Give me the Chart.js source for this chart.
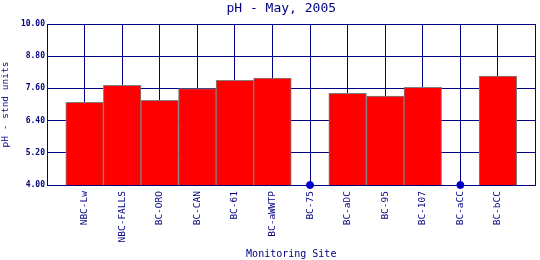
<!DOCTYPE html>
<html>
<head>
<meta charset="utf-8">
<script src="https://cdn.jsdelivr.net/npm/chart.js@4/dist/chart.umd.min.js"></script>
<style>
html,body{margin:0;padding:0;background:#fff;}
#wrap{width:540px;height:260px;position:relative;}
</style>
</head>
<body>
<div id="wrap"><canvas id="c" width="540" height="260"></canvas></div>
<script>
const chartTitle = 'pH - May, 2005';
const xAxisTitle = 'Monitoring Site';
const yAxisTitle = 'pH - stnd units';
const categories = ['NBC-Lw','NBC-FALLS','BC-ORO','BC-CAN','BC-61','BC-aWWTP','BC-75','BC-aDC','BC-95','BC-107','BC-aCC','BC-bCC'];
const phValues = [7.08, 7.71, 7.16, 7.59, 7.90, 7.98, null, 7.42, 7.31, 7.64, null, 8.06];
const yTicks = [4.00, 5.20, 6.40, 7.60, 8.80, 10.00];

const NAVY = '#000080';
const yMin = yTicks[0], yMax = yTicks[yTicks.length - 1];

const barPoints = [];
const missingPoints = [];
phValues.forEach((v, i) => {
  if (v === null) missingPoints.push({x: i, y: yMin});
  else barPoints.push({x: i, y: v});
});

const titlePlugin = {
  id: 'customTitle',
  afterDraw(chart) {
    const ctx = chart.ctx;
    const a = chart.chartArea;
    ctx.save();
    ctx.font = '13px "DejaVu Sans Mono"';
    ctx.fillStyle = NAVY;
    ctx.textAlign = 'center';
    ctx.textBaseline = 'middle';
    ctx.fillText(chartTitle, (a.left + a.right) / 2 - 10, 9);
    ctx.restore();
  }
};

new Chart(document.getElementById('c'), {
  type: 'bar',
  data: {
    datasets: [
      {
        type: 'scatter',
        data: missingPoints,
        backgroundColor: '#0000C8',
        borderColor: '#0000C8',
        pointRadius: 3.5,
        pointHoverRadius: 3.5,
        clip: false,
        order: 0
      },
      {
        type: 'bar',
        data: barPoints,
        backgroundColor: '#FF0000',
        borderColor: '#808080',
        borderWidth: 1,
        borderSkipped: false,
        barPercentage: 1.0,
        categoryPercentage: 1.0,
        order: 1
      }
    ]
  },
  options: {
    responsive: false,
    animation: false,
    devicePixelRatio: 1,
    layout: {padding: {top: 24, right: 4, bottom: 0, left: 0}},
    plugins: {
      legend: {display: false},
      tooltip: {enabled: false},
      title: {display: false}
    },
    scales: {
      x: {
        type: 'linear',
        offset: false,
        min: -1,
        max: categories.length,
        afterBuildTicks(scale) {
          const t = [];
          for (let i = -1; i <= categories.length; i++) t.push({value: i});
          scale.ticks = t;
        },
        afterFit(scale) {
          scale.height = 75;
          scale.paddingLeft = 0;
          scale.paddingRight = 0;
        },
        grid: {color: NAVY, lineWidth: 1, drawTicks: false, offset: false},
        border: {color: NAVY, width: 1},
        ticks: {
          autoSkip: false,
          maxRotation: 90,
          minRotation: 90,
          padding: 6,
          color: NAVY,
          font: {family: 'DejaVu Sans Mono', size: 9.5},
          callback: (v) => (categories[v] !== undefined ? categories[v] : '')
        },
        title: {
          display: true,
          text: xAxisTitle,
          color: NAVY,
          font: {family: 'DejaVu Sans Mono', size: 10},
          padding: {top: 0, bottom: 0}
        }
      },
      y: {
        min: yMin,
        max: yMax,
        afterBuildTicks(scale) { scale.ticks = yTicks.map(v => ({value: v})); },
        afterFit(scale) {
          scale.width = 47;
          scale.paddingTop = 0;
          scale.paddingBottom = 0;
        },
        grid: {color: NAVY, lineWidth: 1, drawTicks: false},
        border: {color: NAVY, width: 1},
        ticks: {
          padding: 2,
          color: NAVY,
          font: {family: 'DejaVu Sans Mono', size: 8, weight: 'bold'},
          callback: (v) => Number(v).toFixed(2)
        },
        title: {
          display: true,
          text: yAxisTitle,
          color: NAVY,
          font: {family: 'DejaVu Sans Mono', size: 9.5},
          padding: {top: 0, bottom: 0}
        }
      }
    }
  },
  plugins: [titlePlugin]
});
</script>
</body>
</html>
